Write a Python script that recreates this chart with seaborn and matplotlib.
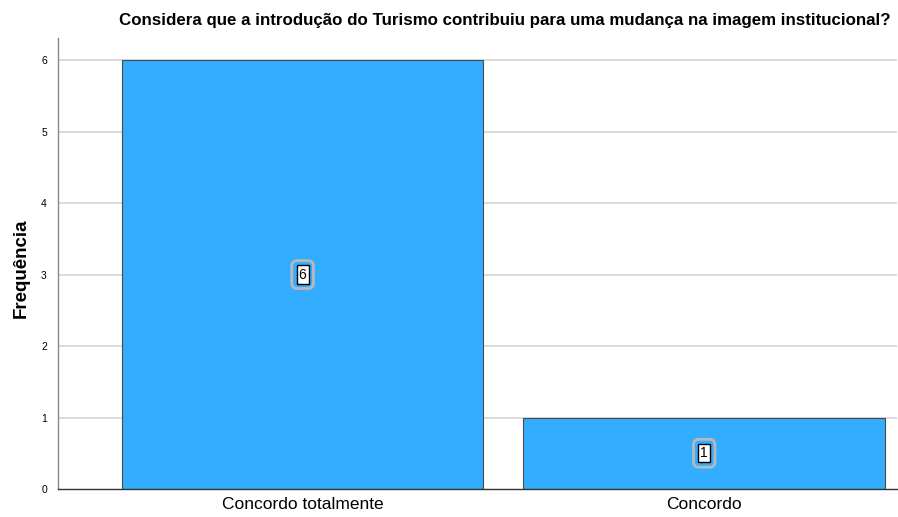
import matplotlib
matplotlib.use("Agg")
import matplotlib.pyplot as plt
import seaborn as sns
import pandas as pd

categories = ["Concordo totalmente", "Concordo"]
values = [6, 1]
title = "Considera que a introdução do Turismo contribuiu para uma mudança na imagem institucional?"
ylabel = "Frequência"

sns.set_style("white")
plt.rcParams['font.family'] = ['Liberation Sans', 'DejaVu Sans']
plt.rcParams['text.color'] = 'black'
plt.rcParams['axes.labelcolor'] = 'black'
plt.rcParams['xtick.color'] = 'black'
plt.rcParams['ytick.color'] = 'black'

df = pd.DataFrame({"cat": categories, "val": values})

fig = plt.figure(figsize=(8.98, 5.17), dpi=100)
ax = fig.add_axes([58/898, 28/517, 839/898, (489-38)/517])
ax.set_axisbelow(True)
for y in range(1, 7):
    ax.axhline(y, color="#d4d4d4", lw=1.2, zorder=0)

sns.barplot(data=df, x="cat", y="val", color="#33adff", saturation=1, width=0.9,
            edgecolor="#4a4a4a", linewidth=0.8, ax=ax, zorder=2)

ax.set_xlim(-0.609, 1.48)
ax.set_ylim(0, 6.31)
ax.set_yticks(range(0, 7))
ax.set_yticklabels([str(i) for i in range(0, 7)], fontsize=7.5)
ax.tick_params(axis="y", length=0, pad=8)
ax.tick_params(axis="x", length=0, labelsize=12.5, pad=6)
ax.set_xlabel("")
ax.set_ylabel(ylabel, fontsize=13.5, fontweight="bold", labelpad=18)
ax.yaxis.set_label_coords(-0.034, 0.49)
ax.set_title(title, fontsize=12.2, fontweight="bold", pad=9, color="black", x=0.532)
for s in ["top", "right"]:
    ax.spines[s].set_visible(False)
ax.spines["left"].set_color("#888888")
ax.spines["bottom"].set_color("#333333")
ax.spines["left"].set_linewidth(1)
ax.spines["bottom"].set_linewidth(1)

for i, v in enumerate(values):
    ax.text(i, v / 2, str(v), ha="center", va="center", fontsize=10, color="none",
            bbox=dict(boxstyle="round,pad=0.5,rounding_size=0.4", facecolor="none",
                      edgecolor="#b8b8b8", linewidth=2), zorder=3)
    ax.text(i, v / 2, str(v), ha="center", va="center", fontsize=10, color="black",
            bbox=dict(boxstyle="square,pad=0.15", facecolor="white",
                      edgecolor="black", linewidth=1), zorder=4)

fig.savefig("out.png", dpi=100)
